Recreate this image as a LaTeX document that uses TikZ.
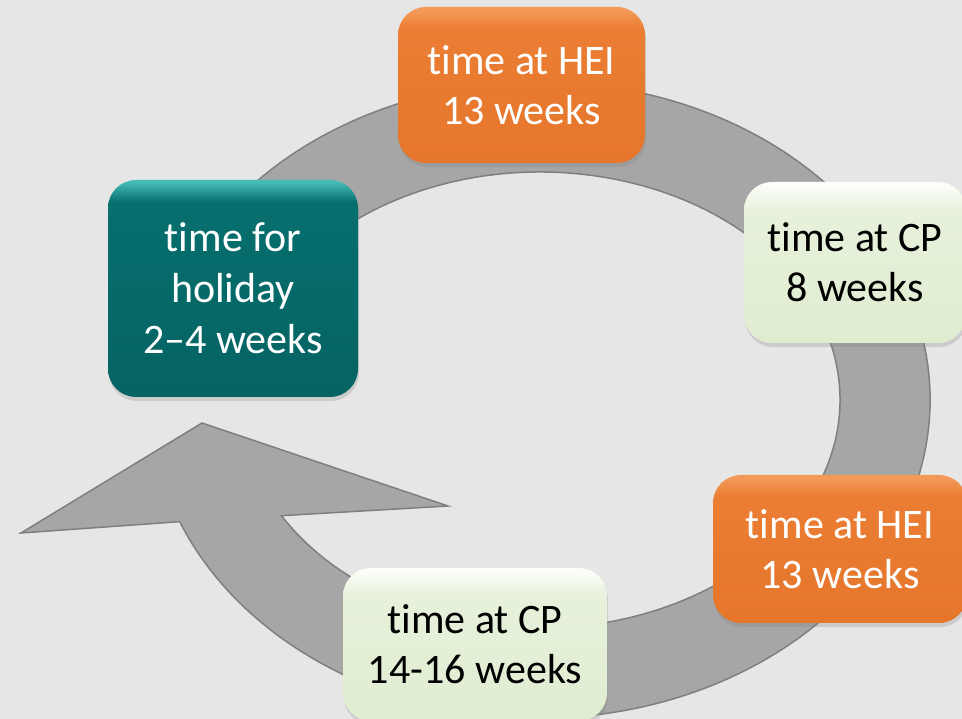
\documentclass[tikz,border=0pt]{standalone}
\usepackage{fontspec}
\setmainfont{Carlito}[Ligatures=NoCommon]
\usetikzlibrary{shadows}

\definecolor{bg}{HTML}{E6E6E6}
\definecolor{ringfill}{HTML}{A6A6A6}
\definecolor{ringline}{HTML}{7F7F7F}
\definecolor{orangetop}{HTML}{F39A58}
\definecolor{orangemid}{HTML}{EB7E34}
\definecolor{orangebot}{HTML}{E5762B}
\definecolor{tealtop}{HTML}{45BCB8}
\definecolor{tealmid}{HTML}{076F6E}
\definecolor{tealbot}{HTML}{056363}
\definecolor{greentop}{HTML}{FBFDF7}
\definecolor{greenmid}{HTML}{E7F1DB}
\definecolor{greenbot}{HTML}{E0EDD1}

% box fills: the path's height maps onto 25bp..75bp of each shading
\pgfdeclareverticalshading{orangeshade}{100bp}{color(0bp)=(orangebot); color(25bp)=(orangebot); color(68bp)=(orangemid); color(74bp)=(orangetop); color(100bp)=(orangetop)}
\pgfdeclareverticalshading{tealshade}{100bp}{color(0bp)=(tealbot); color(25bp)=(tealbot); color(70bp)=(tealmid); color(74.5bp)=(tealtop); color(100bp)=(tealtop)}
\pgfdeclareverticalshading{greenshade}{100bp}{color(0bp)=(greenbot); color(25bp)=(greenbot); color(66bp)=(greenmid); color(74bp)=(greentop); color(100bp)=(greentop)}

\tikzset{
  phase/.style={rectangle, rounded corners=28pt, align=center, inner sep=0pt,
    font=\fontsize{42}{50}\selectfont,
    drop shadow={shadow xshift=1pt, shadow yshift=-4pt, opacity=0.25}},
  hei/.style={phase, shading=orangeshade, text=white},
  holiday/.style={phase, shading=tealshade, text=white, font=\fontsize{42}{51}\selectfont},
  cp/.style={phase, shading=greenshade, text=black},
  cycle arrow/.style={fill=ringfill, draw=ringline, line width=1.5pt, line join=miter}
}

\begin{document}
\begin{tikzpicture}[x=1pt, y=1pt]
  \fill[bg] (0,0) rectangle (962,719);
  \useasboundingbox (0,0) rectangle (962,719);

  % elliptical ring running clockwise, ending in a broad arrowhead on the left
  \path[cycle arrow]
    ({540+390*cos(165)},{319+318*sin(165)})
      arc[start angle=165, end angle=-157.5, x radius=390pt, y radius=318pt]
    -- (21,186) -- (202,296) -- (448,213)
    -- ({540+300*cos(-149.5)},{319+228*sin(-149.5)})
      arc[start angle=-149.5, end angle=165, x radius=300pt, y radius=228pt]
    -- cycle;

  \node[hei, minimum width=247pt, minimum height=156pt] (hei1) at (521.5,634) {time at HEI\\13 weeks};
  \node[cp, minimum width=222pt, minimum height=161pt] (cp1) at (855,456.5) {time at CP\\8 weeks};
  \node[hei, minimum width=254pt, minimum height=148pt] (hei2) at (840,170) {time at HEI\\13 weeks};
  \node[cp, minimum width=264pt, minimum height=153pt] (cp2) at (475,74.5) {time at CP\\14-16 weeks};
  \node[holiday, minimum width=250pt, minimum height=217pt] (hol) at (233,430.5) {time for\\holiday\\2–4 weeks};
\end{tikzpicture}
\end{document}
